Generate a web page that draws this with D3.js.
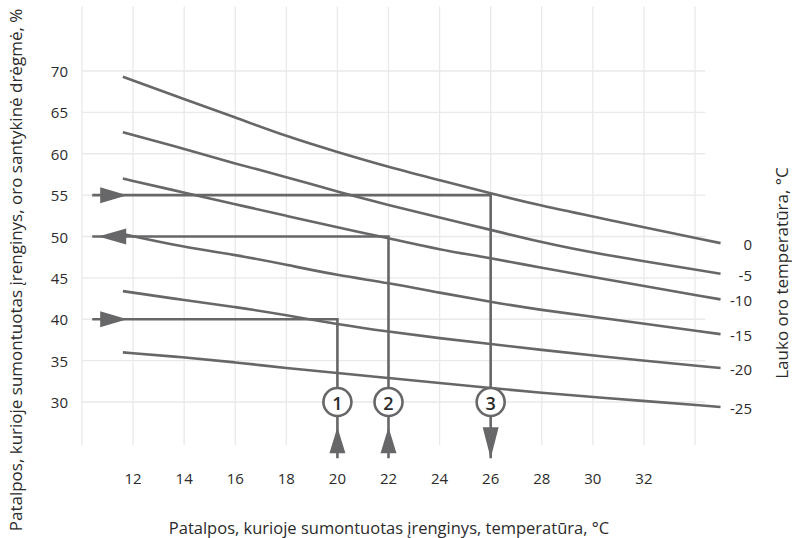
<!DOCTYPE html>
<html>
<head>
<meta charset="utf-8">
<script src="https://cdn.jsdelivr.net/npm/d3@7"></script>
<style>
    body { margin: 0; background: #fff; }
    text { font-family: "Open Sans", "Noto Sans", sans-serif; fill: #2b2b2b; }
</style>
</head>
<body>
<svg id="chart" width="792" height="538"></svg>
<script>
const indoorTemps = [11.6, 14, 16, 18, 20, 22, 24, 26, 28, 30, 35];
const outdoorTemps = [0, -5, -10, -15, -20, -25];
const rh0 = [69.3, 66.6, 64.4, 62.1, 60.2, 58.4, 56.8, 55.2, 53.7, 52.4, 49.2];
const rhMinus5 = [62.6, 60.6, 58.8, 57.2, 55.4, 53.8, 52.3, 50.8, 49.3, 48.0, 45.5];
const rhMinus10 = [57.0, 55.3, 53.9, 52.5, 51.1, 49.8, 48.4, 47.4, 46.2, 45.1, 42.4];
const rhMinus15 = [50.3, 48.7, 47.8, 46.6, 45.3, 44.4, 43.2, 42.1, 41.1, 40.3, 38.2];
const rhMinus20 = [43.4, 42.3, 41.5, 40.5, 39.4, 38.5, 37.7, 37.0, 36.3, 35.6, 34.1];
const rhMinus25 = [36.0, 35.4, 34.8, 34.1, 33.5, 32.9, 32.3, 31.7, 31.1, 30.6, 29.4];

// Tick values for the axes.
const xTicks = [12, 14, 16, 18, 20, 22, 24, 26, 28, 30, 32];
const xGrid = [10, 12, 14, 16, 18, 20, 22, 24, 26, 28, 30, 32, 34];
const yTicks = [30, 35, 40, 45, 50, 55, 60, 65, 70];

// The three worked examples: indoor temperature, humidity, and which ends point into the chart.
const exampleNo = [1, 2, 3];
const exampleTemp = [20, 22, 26];
const exampleRh = [40, 50, 55];
const rhArrowIn = [true, false, true];
const tempArrowIn = [true, true, false];

const curves = [rh0, rhMinus5, rhMinus10, rhMinus15, rhMinus20, rhMinus25].map((vals, i) => ({
    outdoor: outdoorTemps[i],
    points: vals.map((v, j) => [indoorTemps[j], v])
}));

const examples = exampleNo.map((n, i) => ({
    n: n, t: exampleTemp[i], rh: exampleRh[i], rhIn: rhArrowIn[i], tIn: tempArrowIn[i]
}));

let svg = d3.select("#chart");

let x = d3.scaleLinear().domain([10, 34]).range([82, 695]);
let y = d3.scaleLinear().domain([30, 70]).range([402, 71]);

const ink = "#676769";

// Grid
let grid = svg.append("g").attr("stroke", "#e9e9e9").attr("stroke-width", 1.3);
grid.selectAll("line.v").data(xGrid).enter().append("line")
    .attr("x1", d => x(d)).attr("x2", d => x(d))
    .attr("y1", y(77.8)).attr("y2", y(24.8));
grid.selectAll("line.h").data(yTicks).enter().append("line")
    .attr("x1", x(10)).attr("x2", x(34.4))
    .attr("y1", d => y(d)).attr("y2", d => y(d));

// Tick labels
svg.append("g").selectAll("text").data(yTicks).enter().append("text")
    .attr("x", 68).attr("y", d => y(d))
    .attr("text-anchor", "end").attr("dominant-baseline", "central")
    .attr("font-size", 15)
    .text(d => d);

svg.append("g").selectAll("text").data(xTicks).enter().append("text")
    .attr("x", d => x(d)).attr("y", 478)
    .attr("text-anchor", "middle").attr("dominant-baseline", "central")
    .attr("font-size", 15)
    .text(d => d);

// Humidity curves, one per outdoor temperature (smoothed through the read-off points)
let line = d3.line().x(d => x(d[0])).y(d => y(d[1])).curve(d3.curveBasis);

svg.append("g").selectAll("path").data(curves).enter().append("path")
    .attr("d", d => line(d.points))
    .attr("fill", "none").attr("stroke", ink).attr("stroke-width", 2.6);

svg.append("g").selectAll("text").data(curves).enter().append("text")
    .attr("x", 752)
    .attr("y", d => y(d.points[d.points.length - 1][1]) + 1)
    .attr("text-anchor", "end").attr("dominant-baseline", "central")
    .attr("font-size", 15)
    .text(d => d.outdoor);

// Example leader lines with arrows and numbered circles
let xLeft = x(10.4);
let yBottom = y(23.2);
let yCircle = y(30);
let ex = svg.append("g");

examples.forEach(d => {
    let px = x(d.t), py = y(d.rh);
    ex.append("polyline")
        .attr("points", [[xLeft, py], [px, py], [px, yBottom]].map(p => p.join(",")).join(" "))
        .attr("fill", "none").attr("stroke", ink).attr("stroke-width", 2.6);

    // horizontal arrow at the humidity axis
    let hx = d.rhIn ? [xLeft + 8, xLeft + 35] : [xLeft + 34, xLeft + 6];
    ex.append("path")
        .attr("d", `M${hx[0]},${py - 8}L${hx[1]},${py}L${hx[0]},${py + 8}Z`)
        .attr("fill", ink);

    // vertical arrow at the temperature axis
    let vy = d.tIn ? [yBottom - 5, yBottom - 31] : [yBottom - 31, yBottom];
    ex.append("path")
        .attr("d", `M${px - 8},${vy[0]}L${px},${vy[1]}L${px + 8},${vy[0]}Z`)
        .attr("fill", ink);

    ex.append("circle")
        .attr("cx", px).attr("cy", yCircle).attr("r", 14)
        .attr("fill", "#fff").attr("stroke", ink).attr("stroke-width", 2.6);
    ex.append("text")
        .attr("x", px).attr("y", yCircle + 1)
        .attr("text-anchor", "middle").attr("dominant-baseline", "central")
        .attr("font-size", 18).attr("font-weight", 600)
        .text(d.n);
});

// Axis titles
svg.append("text")
    .attr("transform", "translate(15,270) rotate(-90)")
    .attr("text-anchor", "middle").attr("dominant-baseline", "central")
    .attr("font-size", 17)
    .text("Patalpos, kurioje sumontuotas įrenginys, oro santykinė drėgmė, %");

svg.append("text")
    .attr("transform", "translate(781,273) rotate(-90)")
    .attr("text-anchor", "middle").attr("dominant-baseline", "central")
    .attr("font-size", 17)
    .text("Lauko oro temperatūra, °C");

svg.append("text")
    .attr("x", 389).attr("y", 527)
    .attr("text-anchor", "middle").attr("dominant-baseline", "central")
    .attr("font-size", 16.5)
    .text("Patalpos, kurioje sumontuotas įrenginys, temperatūra, °C");
</script>
</body>
</html>
